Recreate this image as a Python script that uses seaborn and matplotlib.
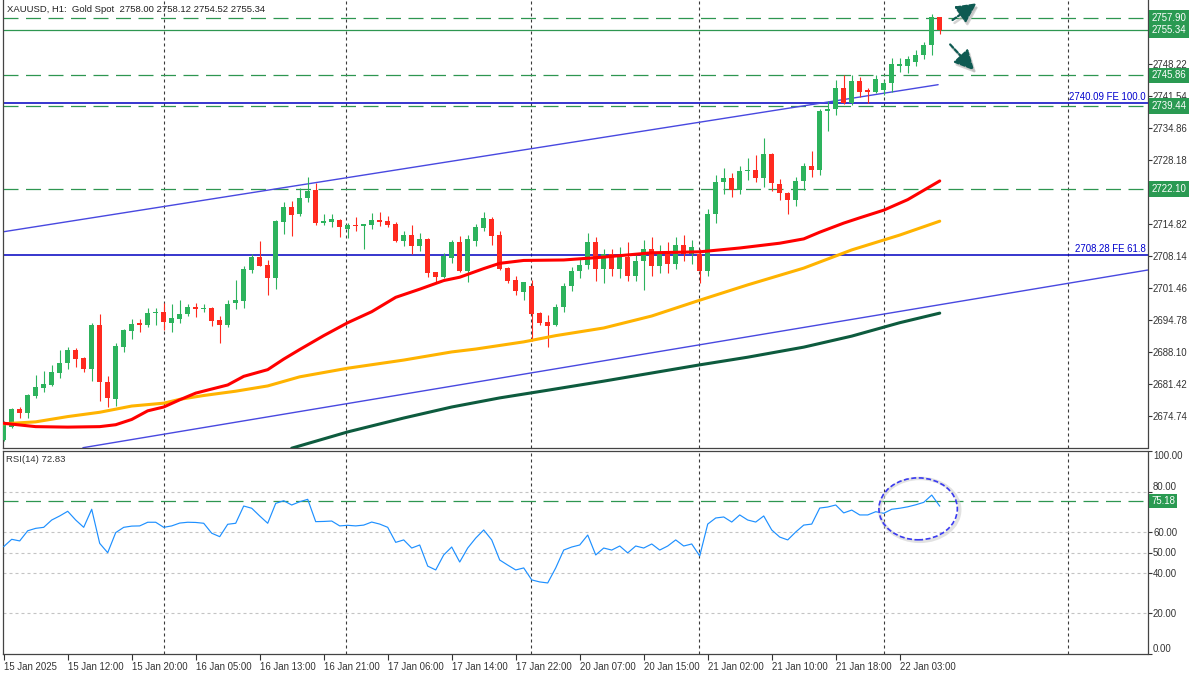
import numpy as np
import pandas as pd
import matplotlib
matplotlib.use("Agg")
import matplotlib.pyplot as plt
import seaborn as sns
from matplotlib.patches import Ellipse

# ---------------- data ----------------
title_text = "XAUUSD, H1:  Gold Spot  2758.00 2758.12 2754.52 2755.34"
rsi_title = "RSI(14) 72.83"

opens = [2669.7, 2672.4, 2676.2, 2675.4, 2679.0, 2680.6, 2681.2, 2683.8, 2685.8, 2688.5,
         2686.9, 2684.5, 2693.7, 2681.9, 2678.3, 2689.2, 2692.5, 2694.1, 2693.7, 2696.2,
         2696.4, 2694.2, 2695.0, 2696.0, 2697.5, 2697.0, 2697.3, 2694.7, 2693.7, 2698.4,
         2698.8, 2705.2, 2707.9, 2706.2, 2703.6, 2715.3, 2718.4, 2716.9, 2720.2, 2721.9,
         2715.0, 2715.3, 2715.6, 2713.8, 2714.7, 2714.4, 2714.7, 2715.6, 2715.5, 2714.8,
         2711.3, 2712.5, 2710.3, 2711.7, 2704.7, 2703.7, 2707.8, 2711.1, 2704.9, 2711.3,
         2714.0, 2715.9, 2712.5, 2705.7, 2703.1, 2700.7, 2701.9, 2696.2, 2694.3, 2693.7,
         2697.5, 2701.8, 2705.0, 2706.3, 2711.0, 2705.5, 2708.5, 2705.5, 2708.0, 2704.0,
         2707.0, 2709.5, 2706.0, 2709.0, 2706.5, 2710.5, 2708.5, 2708.5, 2705.0, 2717.0,
         2723.5, 2724.5, 2722.0, 2725.8, 2726.1, 2724.4, 2729.4, 2723.2, 2721.3, 2719.8,
         2723.8, 2726.9, 2726.1, 2738.3, 2738.8, 2743.3, 2740.0, 2744.7, 2742.8, 2742.4,
         2742.8, 2744.2, 2747.8, 2747.9, 2748.6, 2750.2, 2752.2, 2758.00]
highs = [2673.6, 2676.4, 2676.6, 2679.3, 2683.3, 2684.1, 2685.4, 2688.5, 2689.2, 2688.9,
         2687.0, 2694.1, 2696.0, 2683.1, 2690.0, 2692.9, 2695.0, 2695.0, 2697.3, 2697.3,
         2698.3, 2698.1, 2698.9, 2698.1, 2698.3, 2698.1, 2697.5, 2695.6, 2698.9, 2703.1,
         2706.0, 2708.5, 2711.3, 2707.3, 2715.6, 2719.3, 2719.6, 2722.3, 2724.7, 2723.3,
         2717.0, 2717.0, 2715.9, 2715.1, 2716.3, 2714.9, 2717.2, 2717.4, 2716.5, 2715.3,
         2713.4, 2714.6, 2712.9, 2711.9, 2704.8, 2708.7, 2711.5, 2712.4, 2712.5, 2714.8,
         2717.4, 2716.3, 2713.4, 2705.8, 2704.0, 2702.8, 2703.1, 2696.5, 2695.8, 2698.1,
         2702.5, 2705.8, 2707.5, 2713.0, 2712.0, 2709.5, 2709.5, 2710.0, 2711.0, 2708.5,
         2711.5, 2712.0, 2710.5, 2711.0, 2712.0, 2712.5, 2711.5, 2709.5, 2718.0, 2725.0,
         2726.5, 2725.5, 2727.0, 2728.5, 2729.2, 2732.7, 2729.6, 2724.2, 2721.5, 2724.7,
         2727.6, 2730.1, 2738.8, 2740.4, 2744.9, 2745.9, 2745.9, 2745.4, 2743.3, 2745.9,
         2744.9, 2749.5, 2749.5, 2749.9, 2751.1, 2752.9, 2758.6, 2758.12]
lows = [2669.5, 2672.2, 2674.2, 2674.4, 2678.4, 2679.8, 2681.0, 2682.7, 2684.5, 2685.0,
        2684.0, 2682.0, 2677.8, 2676.5, 2676.8, 2688.1, 2690.8, 2692.3, 2693.2, 2693.7,
        2692.7, 2692.3, 2694.2, 2695.6, 2695.4, 2696.5, 2693.6, 2689.9, 2693.4, 2697.0,
        2697.3, 2704.6, 2706.0, 2700.0, 2701.2, 2712.7, 2712.4, 2716.5, 2719.4, 2714.6,
        2714.6, 2714.2, 2712.2, 2711.8, 2713.4, 2709.6, 2713.8, 2714.4, 2714.2, 2711.0,
        2710.3, 2708.5, 2709.2, 2703.7, 2702.8, 2703.5, 2706.7, 2704.7, 2702.6, 2710.2,
        2713.4, 2710.4, 2705.3, 2702.4, 2700.0, 2698.9, 2690.4, 2693.7, 2689.1, 2693.6,
        2696.5, 2700.8, 2703.5, 2705.5, 2703.0, 2702.5, 2704.0, 2703.5, 2703.0, 2703.0,
        2701.0, 2704.0, 2704.5, 2704.5, 2705.5, 2707.0, 2706.5, 2702.5, 2704.0, 2715.0,
        2721.0, 2720.5, 2721.0, 2724.0, 2723.5, 2722.5, 2721.6, 2719.8, 2716.9, 2718.5,
        2721.9, 2724.6, 2725.0, 2734.3, 2737.6, 2739.9, 2739.7, 2741.4, 2740.0, 2742.1,
        2741.8, 2742.4, 2746.6, 2746.3, 2747.9, 2749.2, 2750.2, 2754.52]
closes = [2673.2, 2676.2, 2675.4, 2679.2, 2680.7, 2681.4, 2683.9, 2685.8, 2688.5, 2686.6,
          2684.5, 2693.7, 2681.9, 2678.5, 2689.3, 2692.7, 2693.9, 2693.7, 2696.2, 2696.4,
          2694.4, 2695.1, 2696.0, 2697.5, 2697.0, 2697.3, 2694.6, 2693.7, 2698.2, 2698.9,
          2705.4, 2707.9, 2706.1, 2703.6, 2715.4, 2718.4, 2716.7, 2720.2, 2721.7, 2715.0,
          2715.4, 2715.8, 2714.2, 2714.6, 2714.4, 2714.8, 2715.6, 2715.3, 2714.7, 2711.3,
          2712.5, 2710.3, 2711.7, 2704.6, 2703.7, 2708.2, 2711.1, 2704.9, 2711.7, 2714.2,
          2716.0, 2712.4, 2705.4, 2702.9, 2700.8, 2702.6, 2696.0, 2694.2, 2693.6, 2697.5,
          2701.8, 2705.0, 2706.3, 2711.0, 2705.5, 2708.5, 2705.5, 2708.0, 2704.0, 2707.0,
          2709.5, 2706.0, 2709.0, 2706.5, 2710.5, 2708.5, 2710.0, 2705.0, 2717.0, 2723.5,
          2724.5, 2722.0, 2725.8, 2726.1, 2724.4, 2729.4, 2723.3, 2721.2, 2719.8, 2723.8,
          2726.9, 2726.1, 2738.3, 2738.8, 2743.3, 2740.0, 2744.7, 2742.4, 2742.4, 2745.1,
          2744.2, 2748.2, 2748.2, 2749.3, 2750.2, 2752.2, 2758.0, 2755.34]

rsi_values = [52.9, 56.5, 55.7, 60.7, 61.9, 62.4, 66.0, 68.0, 70.3, 66.0,
              62.4, 71.3, 54.5, 49.9, 59.8, 62.4, 63.0, 63.1, 64.9, 64.9,
              62.4, 63.1, 64.5, 64.9, 64.8, 64.4, 59.5, 57.8, 63.9, 64.4,
              72.9, 71.8, 68.0, 64.4, 74.2, 75.5, 73.4, 75.0, 76.2, 65.2,
              65.3, 65.5, 63.1, 63.4, 63.1, 63.5, 65.0, 64.0, 62.4, 55.0,
              56.2, 52.2, 53.7, 43.3, 41.4, 48.8, 52.7, 45.3, 52.2, 57.1,
              61.1, 56.2, 46.3, 43.8, 41.4, 42.4, 36.5, 35.5, 35.0, 42.4,
              51.2, 52.7, 53.7, 58.6, 48.8, 52.2, 51.2, 53.2, 49.8, 53.2,
              52.2, 54.2, 51.2, 53.2, 56.2, 53.2, 54.2, 48.3, 64.0, 67.0,
              67.5, 65.0, 68.5, 66.0, 65.0, 68.0, 61.1, 57.6, 56.2, 60.1,
              63.5, 64.0, 71.9, 72.4, 73.4, 69.5, 70.9, 68.5, 68.5, 70.1,
              69.3, 71.3, 71.8, 72.5, 73.5, 74.7, 78.3, 72.83]

# moving averages read at sampled bars
ma_red_bars = [0, 4, 8, 12, 14, 16, 18, 20, 22, 24, 28, 30, 33, 35, 37, 40, 43, 46, 49, 52,
               55, 57, 60, 62, 65, 70, 75, 81, 87, 92, 97, 100, 102, 105, 107, 110, 113, 117]
ma_red_vals = [2673.2, 2672.5, 2672.4, 2672.5, 2672.9, 2674.0, 2675.8, 2676.6, 2678.1, 2679.5,
               2681.2, 2683.0, 2684.4, 2686.6, 2688.6, 2691.5, 2694.2, 2696.5, 2699.5, 2701.2,
               2703.0, 2703.7, 2705.5, 2706.6, 2707.2, 2707.3, 2707.9, 2708.8, 2709.0, 2709.8,
               2710.8, 2711.7, 2713.1, 2715.0, 2716.1, 2717.7, 2719.9, 2723.8]
ma_orange_bars = [0, 4, 8, 12, 16, 20, 22, 25, 29, 33, 37, 43, 50, 56, 59, 65, 69, 75, 81,
                  87, 93, 100, 106, 112, 117]
ma_orange_vals = [2673.1, 2673.5, 2674.6, 2675.5, 2676.8, 2677.4, 2678.2, 2679.0, 2679.9,
                  2681.0, 2682.9, 2684.7, 2686.4, 2688.1, 2688.7, 2690.2, 2691.5, 2693.1,
                  2695.6, 2698.9, 2702.1, 2705.6, 2709.4, 2712.5, 2715.4]
ma_dkgreen_bars = [36, 43, 50, 56, 62, 68, 75, 81, 87, 93, 100, 106, 112, 117]
ma_dkgreen_vals = [2668.0, 2671.4, 2674.3, 2676.6, 2678.5, 2680.1, 2682.0, 2683.7, 2685.4,
                   2687.0, 2689.1, 2691.4, 2694.2, 2696.2]

# channel trend lines (bar, price) end points
channel_upper = [(0, 2713.2), (116.8, 2743.9)]
channel_lower = [(9.9, 2668.1), (143.0, 2705.2)]

# horizontal levels
dashed_levels = [2757.90, 2745.86, 2739.44, 2722.10]
price_line = 2755.34
tag_levels = [2757.90, 2755.34, 2745.86, 2739.44, 2722.10]
fe_levels = [2740.09, 2708.28]
fe_labels = ["2740.09 FE 100.0", "2708.28 FE 61.8"]
price_ticks = [2674.74, 2681.42, 2688.10, 2694.78, 2701.46, 2708.14, 2714.82,
               2728.18, 2734.86, 2741.54, 2748.22]
rsi_ticks = [0, 20, 40, 50, 60, 80, 100]
rsi_grid = [20, 40, 50, 60, 80]
rsi_level = 75.18

time_tick_bars = [0, 8, 16, 24, 32, 40, 48, 56, 64, 72, 80, 88, 96, 104, 112]
time_labels = ["15 Jan 2025", "15 Jan 12:00", "15 Jan 20:00", "16 Jan 05:00", "16 Jan 13:00",
               "16 Jan 21:00", "17 Jan 06:00", "17 Jan 14:00", "17 Jan 22:00", "20 Jan 07:00",
               "20 Jan 15:00", "21 Jan 02:00", "21 Jan 10:00", "21 Jan 18:00", "22 Jan 03:00"]
vgrid_bars = [20, 42.8, 65.9, 86.9, 110, 133]

# ---------------- style ----------------
sns.set_theme(style="white")
plt.rcParams['font.family'] = ['Liberation Sans', 'DejaVu Sans']

GREEN = "#2db35d"
RED = "#ff2a1f"
TAG = "#2a9a52"
LEVEL = "#2e9650"
AXC = "#444444"
FS = 6.9

W, H = 1200, 675
fig = plt.figure(figsize=(12, 6.75), dpi=100)
fig.patch.set_facecolor("white")
left = 2.5 / W
width = 1145 / W
ax = fig.add_axes([left, 1 - 448 / H, width, 448 / H])
axr = fig.add_axes([left, 1 - 654 / H, width, 203 / H])

n = len(opens)
df = pd.DataFrame({"bar": np.arange(n), "open": opens, "high": highs,
                   "low": lows, "close": closes, "rsi": rsi_values})
XL = (-0.15, 142.97)
YL = (2668.04, 2761.58)

# ---------------- main panel ----------------
for a in (ax, axr):
    a.set_xlim(*XL)
    for b in vgrid_bars:
        a.axvline(b, color="#3a3a3a", lw=0.8, ls=(0, (2.7, 2.7)), zorder=1)

ax.set_ylim(*YL)
for lv in dashed_levels:
    ax.axhline(lv, color=LEVEL, lw=0.9, ls=(0, (12, 6)), zorder=1)
ax.axhline(price_line, color=LEVEL, lw=0.9, zorder=1)
for lv in fe_levels:
    ax.axhline(lv, color="#0000c0", lw=1.1, zorder=1.5)

# channel
for pts in (channel_upper, channel_lower):
    ax.plot([p[0] for p in pts], [p[1] for p in pts], color="#4848e0", lw=1.0, zorder=2)

# candles
up = df["close"] >= df["open"]
cols = np.where(up, GREEN, RED)
ax.vlines(df["bar"], df["low"], df["high"], colors=cols, lw=0.8, zorder=3)
bot = np.minimum(df["open"], df["close"])
hgt = np.maximum((df["close"] - df["open"]).abs(), 0.22)
ax.bar(df["bar"], hgt, bottom=bot, width=0.64, color=cols, lw=0, zorder=3.5)

# moving averages
sns.lineplot(x=ma_dkgreen_bars, y=ma_dkgreen_vals, ax=ax, color="#0d5b3e", lw=2.2, zorder=4)
sns.lineplot(x=ma_orange_bars, y=ma_orange_vals, ax=ax, color="#ffb300", lw=2.2, zorder=4)
sns.lineplot(x=ma_red_bars, y=ma_red_vals, ax=ax, color="#ff0000", lw=2.2, zorder=4)

# right axis
ax.yaxis.tick_right()
ax.set_yticks(price_ticks)
ax.set_yticklabels([f"{t:.2f}" for t in price_ticks])
ax.tick_params(axis="y", which="both", right=True, left=False, length=3, width=0.8,
               pad=1, labelsize=FS, colors="#333333", direction="out")
ax.set_xticks([])
ax.set_xlabel("")
ax.set_ylabel("")
for s in ("left", "right", "bottom"):
    ax.spines[s].set_color(AXC)
    ax.spines[s].set_linewidth(0.9)
ax.spines["top"].set_visible(False)

ytr = ax.get_yaxis_transform()
for lv in tag_levels:
    ax.text(1.0035, lv, f"{lv:.2f}", transform=ytr, ha="left", va="center", color="white",
            fontsize=FS, zorder=10, clip_on=False,
            bbox=dict(boxstyle="square,pad=0.28", fc=TAG, ec="none"))
for lv, lab in zip(fe_levels, fe_labels):
    ax.text(0.9985, lv + 0.25, lab, transform=ytr, ha="right", va="bottom",
            color="#0000cd", fontsize=FS, zorder=6)

ax.text(4.5 / 1145, 1 - 10 / 448, title_text, transform=ax.transAxes, ha="left",
        va="center", fontsize=6.8, color="#222222", zorder=10)

# arrows (with soft shadow)
arrow_style = "-|>,head_length=1.0,head_width=0.5"
arrows = [((121.6, 2760.9), (118.6, 2757.4)), ((121.3, 2746.9), (118.3, 2752.3))]
for head, tail in arrows:
    ax.annotate("", xy=(head[0] + 0.25, head[1] - 0.6), xytext=(tail[0] + 0.25, tail[1] - 0.6),
                arrowprops=dict(arrowstyle=arrow_style, color="#b8b8b8", lw=1.8,
                                shrinkA=0, shrinkB=0, alpha=0.6),
                annotation_clip=False, zorder=7)
    ax.annotate("", xy=head, xytext=tail,
                arrowprops=dict(arrowstyle=arrow_style, color="#0e5a52", lw=1.6,
                                ls=(0, (2, 1)), shrinkA=0, shrinkB=0),
                annotation_clip=False, zorder=8)

# ---------------- RSI panel ----------------
axr.set_ylim(0, 100)
for g in rsi_grid:
    axr.axhline(g, color="#c4c4c4", lw=0.8, ls=(0, (2.7, 2.7)), zorder=1)
axr.axhline(rsi_level, color=LEVEL, lw=0.9, ls=(0, (12, 6)), zorder=1)
sns.lineplot(data=df, x="bar", y="rsi", ax=axr, color="#1e90ff", lw=0.85, zorder=3)
axr.add_patch(Ellipse((114.5, 71.0), 10.0, 31.0, fill=False, ec="#d0d0d0", lw=2.5,
                      alpha=0.6, zorder=4))
axr.add_patch(Ellipse((114.3, 71.5), 9.8, 30.5, fill=False, ec="#3a3af0", lw=1.2,
                      ls=(0, (3, 1.5)), zorder=5))

axr.yaxis.tick_right()
axr.set_yticks(rsi_ticks)
axr.set_yticklabels([f"{t:.2f}" for t in rsi_ticks])
axr.tick_params(axis="y", right=True, left=False, length=3, width=0.8, pad=1,
                labelsize=FS, colors="#333333", direction="out")
labs = axr.get_yticklabels()
labs[0].set_va("bottom")
labs[-1].set_va("top")
labs[5].set_va("bottom")
axr.set_xticks(time_tick_bars)
axr.set_xticklabels(time_labels)
axr.tick_params(axis="x", bottom=True, length=4, width=0.8, pad=1.5, labelsize=FS,
                colors="#333333", direction="out")
for t in axr.get_xticklabels():
    t.set_ha("left")
axr.set_xlabel("")
axr.set_ylabel("")
for s in axr.spines.values():
    s.set_color(AXC)
    s.set_linewidth(0.9)
axr.text(1.0035, rsi_level, f"{rsi_level:.2f}", transform=axr.get_yaxis_transform(),
         ha="left", va="center", color="white", fontsize=FS, zorder=10, clip_on=False,
         bbox=dict(boxstyle="square,pad=0.22", fc=TAG, ec="none"))
axr.text(4 / 1145, 1 - 9 / 203, rsi_title, transform=axr.transAxes, ha="left", va="center",
         fontsize=6.8, color="#333333")

fig.savefig("out.png", dpi=100, facecolor="white")
